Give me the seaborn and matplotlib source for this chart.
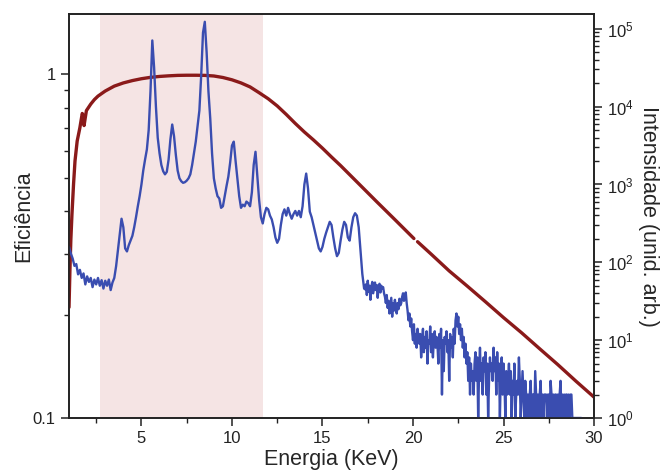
import numpy as np
import pandas as pd
import matplotlib
matplotlib.use('Agg')
import matplotlib.pyplot as plt
import matplotlib.ticker as mticker
import seaborn as sns

# Eficiência do detector (eixo esquerdo)
eff_energy = [1.0, 1.05, 1.1, 1.16, 1.25, 1.33, 1.45, 1.6, 1.73, 1.78, 1.83, 1.9, 1.96,
              2.2, 2.4, 2.6, 2.8, 3.0, 3.25, 3.5, 4.0, 4.5, 5.0, 5.5, 6.0, 6.5, 7.0, 7.5,
              8.0, 8.5, 9.0, 9.5, 10.0, 10.5, 11.0, 11.5, 12.0, 12.5, 13.0, 13.5, 14.0,
              14.5, 15.0, 15.5, 16.0, 17.0, 18.0, 19.0, 20.05,
              20.25, 21.0, 22.0, 23.0, 24.0, 25.0, 26.0, 27.0, 28.0, 29.0, 30.0]
eff_value = [0.21, 0.27, 0.33, 0.39, 0.48, 0.56, 0.64, 0.70, 0.77, 0.76, 0.71, 0.75, 0.785,
             0.82, 0.845, 0.865, 0.88, 0.895, 0.91, 0.925, 0.945, 0.96, 0.972, 0.981, 0.987, 0.991, 0.994, 0.995,
             0.995, 0.994, 0.99, 0.98, 0.965, 0.945, 0.92, 0.885, 0.85, 0.81, 0.765, 0.72, 0.68,
             0.645, 0.61, 0.575, 0.543, 0.481, 0.426, 0.378, 0.333,
             0.326, 0.30, 0.268, 0.242, 0.218, 0.196, 0.177, 0.159, 0.143, 0.128, 0.115]
eff_segment = [0] * 49 + [1] * 11

# Espectro (eixo direito) - passo 0.1 keV até 17.3, depois 0.05 keV
spec_energy_a = np.round(np.arange(1.0, 17.31, 0.1), 2)
spec_counts_a = [158, 130, 112, 90, 95, 70, 80, 63, 72, 52,
                 66, 56, 63, 48, 60, 52, 63, 50, 59, 46,
                 58, 50, 60, 44, 55, 63, 89, 141, 224, 363,
                 282, 151, 138, 166, 190, 219, 282, 380, 525, 708,
                 1000, 1510, 2090, 2820, 5010, 15800, 70800, 31600, 10000, 3980,
                 2510, 1780, 1480, 1350, 1450, 2090, 3800, 5890, 4170, 2400,
                 1510, 1200, 1100, 1050, 1070, 1120, 1200, 1350, 1780, 2510,
                 3550, 5620, 8910, 25100, 89100, 123000, 50100, 15800, 7080, 2510,
                 1200, 891, 708, 661, 501, 525, 708, 955, 1260, 1910,
                 3160, 3550, 2000, 1200, 708, 501, 550, 525, 603, 575,
                 525, 794, 1780, 2630, 1260, 631, 380, 316, 417, 501,
                 479, 398, 355, 282, 209, 178, 200, 302, 417, 479,
                 398, 501, 417, 363, 417, 457, 398, 457, 380, 525,
                 1000, 1380, 891, 447, 380, 302, 240, 190, 151, 138,
                 158, 200, 240, 282, 331, 302, 209, 151, 120, 132,
                 190, 263, 331, 302, 209, 190, 282, 380, 427, 398,
                 282, 141, 71, 46]
spec_energy_b = np.round(np.arange(17.35, 29.31, 0.05), 2)
spec_counts_b = [45, 52, 38, 58, 42, 50, 33, 48, 56, 40, 47, 55, 44, 51, 35, 49, 53, 41, 50, 46,
                 48, 40, 36, 30, 38, 26, 32, 22, 28, 35, 20, 30, 24, 33, 27, 22, 30, 25, 34, 28,
                 30, 36, 40, 32, 38, 41, 30, 24, 18, 22, 15, 19, 13, 10, 16, 9, 12, 8, 14, 11,
                 9, 12, 6, 10, 14, 7, 11, 8, 13, 5, 10, 9, 15, 7, 12, 6, 10, 13, 8, 11,
                 9, 5, 12, 8, 14, 2, 10, 4, 11, 9, 13, 7, 10, 3, 12, 8, 11, 6, 14, 9,
                 18, 22, 15, 20, 12, 16, 10, 14, 8, 11, 6, 9, 5, 7, 3, 6, 2, 5, 3, 4,
                 2, 5, 7, 3, 6, 1, 4, 8, 3, 5, 2, 6, 4, 7, 2, 5, 1, 3, 6, 4,
                 5, 3, 8, 4, 6, 2, 7, 3, 5, 1, 4, 6, 2, 5, 3, 1, 4, 2, 3, 5,
                 2, 4, 1, 3, 2, 5, 1, 2, 3, 2, 6, 3, 1, 2, 4, 2, 1, 3, 2, 1,
                 2, 1, 2, 3, 1, 2, 2, 1, 4, 2, 1, 2, 1, 2, 3, 1, 2, 1, 2, 2,
                 2, 1, 2, 2, 1, 3, 2, 1, 2, 1, 2, 2, 1, 2, 1, 2, 3, 1, 2, 1,
                 2, 1, 2, 2, 1, 2, 1, 2, 2, 1, 1, 1, 1, 1, 1, 1, 1, 1, 1, 1]

# faixa destacada
band_range = (2.7, 11.7)

sns.set_style('ticks')
plt.rcParams['font.family'] = ['Liberation Sans', 'DejaVu Sans']
plt.rcParams['mathtext.default'] = 'regular'

eff_df = pd.DataFrame({'energia': eff_energy, 'eficiencia': eff_value, 'seg': eff_segment})
spec_df = pd.DataFrame({'energia': np.concatenate([spec_energy_a, spec_energy_b]),
                        'contagens': spec_counts_a + spec_counts_b})

fig = plt.figure(figsize=(6.65, 4.73), dpi=100)
ax = fig.add_axes([0.1038, 0.1163, 0.7895, 0.8541])
ax.axvspan(*band_range, color='#f5e4e4', lw=0, zorder=0)
sns.lineplot(data=eff_df, x='energia', y='eficiencia', units='seg', estimator=None,
             color='#8a1a1a', lw=2.4, ax=ax, zorder=3)
ax.set_yscale('log')
ax.set_xlim(1, 30)
ax.set_ylim(0.1, 1.5)
ax.yaxis.set_major_locator(mticker.FixedLocator([0.1, 1]))
ax.yaxis.set_major_formatter(mticker.FixedFormatter(['0.1', '1']))
ax.yaxis.set_minor_locator(mticker.FixedLocator([0.2, 0.3, 0.4, 0.5, 0.6, 0.7, 0.8, 0.9]))
ax.yaxis.set_minor_formatter(mticker.NullFormatter())
ax.xaxis.set_major_locator(mticker.FixedLocator([5, 10, 15, 20, 25, 30]))
ax.xaxis.set_minor_locator(mticker.FixedLocator([2.5, 7.5, 12.5, 17.5, 22.5, 27.5]))
ax.set_xlabel('Energia (KeV)', fontsize=15.5, labelpad=2)
ax.set_ylabel('Eficiência', fontsize=15.5, labelpad=-1)

ax2 = ax.twinx()
sns.lineplot(data=spec_df, x='energia', y='contagens', estimator=None, sort=False,
             color='#3a4db0', lw=1.7, ax=ax2)
ax2.set_yscale('log')
ax2.set_ylim(1, 10**5.19)
ax2.yaxis.set_major_locator(mticker.LogLocator(base=10, numticks=10))
ax2.yaxis.set_minor_locator(mticker.LogLocator(base=10, subs=np.arange(2, 10), numticks=10))
ax2.yaxis.set_minor_formatter(mticker.NullFormatter())
ax2.set_ylabel('Intensidade (unid. arb.)', fontsize=15.5, rotation=270, labelpad=18)
ax2.set_xlim(1, 30)

for a in (ax, ax2):
    a.tick_params(which='major', length=6, width=1.1, labelsize=12, direction='out', colors='#222222')
    a.tick_params(which='minor', length=3.5, width=1.0, direction='out', colors='#222222')
    for s in a.spines.values():
        s.set_linewidth(1.2)
        s.set_color('#222222')
        s.set_visible(True)

fig.savefig('out.png', dpi=100)
